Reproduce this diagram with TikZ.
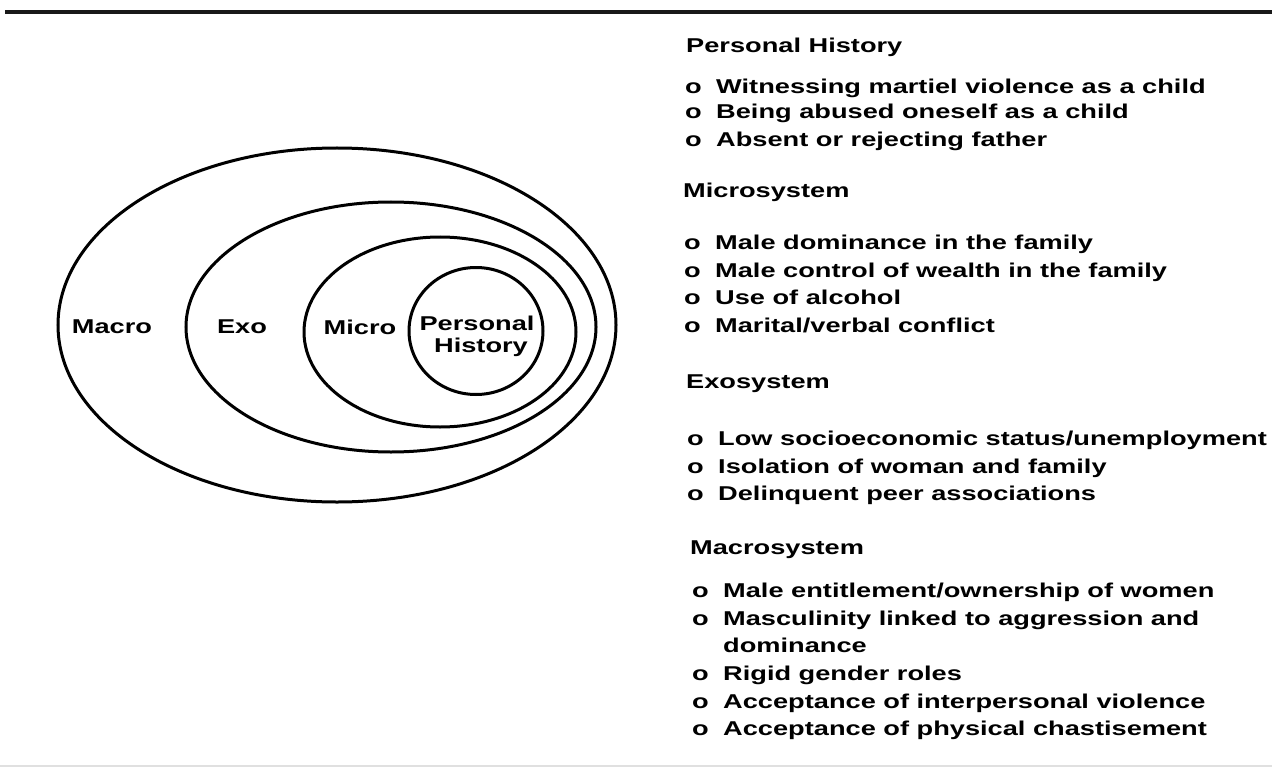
\documentclass[tikz,border=0pt]{standalone}
\usepackage{fontspec}
\usetikzlibrary{shapes.geometric}
\newfontfamily\labelfont{Liberation Sans Bold}[FakeStretch=1.36]
\tikzset{
  ring/.style={draw=black, line width=3bp, ellipse, inner sep=0pt},
  lbl/.style={font=\labelfont\fontsize{20bp}{24bp}\selectfont, inner sep=0pt, text=black},
  head/.style={lbl, anchor=base west},
  bul/.style={lbl, anchor=base west},
  item/.style={lbl, anchor=base west},
}
\begin{document}
\begin{tikzpicture}[x=1bp, y=-1bp]
\useasboundingbox (0,0) rectangle (1272,769);
% page rules
\coordinate (tl) at (5,12);
\coordinate (tr) at (1272,12);
\draw[line width=4.5bp, black!90] (tl) -- (tr);
\coordinate (bl) at (0,766);
\coordinate (br) at (1272,766);
\draw[line width=1.5bp, black!12] (bl) -- (br);

% nested system rings
\node[ring, minimum width=558bp, minimum height=354bp] (macro) at (337,325) {};
\node[ring, minimum width=410bp, minimum height=250bp] (exo) at (391,327) {};
\node[ring, minimum width=272bp, minimum height=190bp] (micro) at (440,332) {};
\node[ring, minimum width=134bp, minimum height=127bp] (pers) at (476,331) {};

\node[lbl] (macrolbl) at (112,327) {Macro};
\node[lbl] (exolbl) at (242,327) {Exo};
\node[lbl] (microlbl) at (360,327) {Micro};
\node[lbl, align=center] (perslbl) at (477,336) {Personal\\[-2bp]\hspace*{8bp}History};

% Personal history
\node[head] (ph) at (686,53) {Personal History};
\node[bul] (phb1) at (685,94) {o};  \node[item] (ph1) at (716,94) {Witnessing martiel violence as a child};
\node[bul] (phb2) at (685,119) {o}; \node[item] (ph2) at (716,119) {Being abused oneself as a child};
\node[bul] (phb3) at (685,146) {o}; \node[item] (ph3) at (716,146) {Absent or rejecting father};

% Microsystem
\node[head] (ms) at (683,197) {Microsystem};
\node[bul] (msb1) at (684,249) {o}; \node[item] (ms1) at (715,249) {Male dominance in the family};
\node[bul] (msb2) at (684,277) {o}; \node[item] (ms2) at (715,277) {Male control of wealth in the family};
\node[bul] (msb3) at (684,304) {o}; \node[item] (ms3) at (715,304) {Use of alcohol};
\node[bul] (msb4) at (684,332) {o}; \node[item] (ms4) at (715,332) {Marital/verbal conflict};

% Exosystem
\node[head] (es) at (686,388) {Exosystem};
\node[bul] (esb1) at (687,445) {o}; \node[item] (es1) at (718,445) {Low socioeconomic status/unemployment};
\node[bul] (esb2) at (687,473) {o}; \node[item] (es2) at (718,473) {Isolation of woman and family};
\node[bul] (esb3) at (687,500) {o}; \node[item] (es3) at (718,500) {Delinquent peer associations};

% Macrosystem
\node[head] (mas) at (690,554) {Macrosystem};
\node[bul] (masb1) at (692,597) {o}; \node[item] (mas1) at (723,597) {Male entitlement/ownership of women};
\node[bul] (masb2) at (692,625) {o}; \node[item] (mas2) at (723,625) {Masculinity linked to aggression and};
\node[item] (mas2b) at (723,652) {dominance};
\node[bul] (masb3) at (692,680) {o}; \node[item] (mas3) at (723,680) {Rigid gender roles};
\node[bul] (masb4) at (692,708) {o}; \node[item] (mas4) at (723,708) {Acceptance of interpersonal violence};
\node[bul] (masb5) at (692,735) {o}; \node[item] (mas5) at (723,735) {Acceptance of physical chastisement};
\end{tikzpicture}
\end{document}
